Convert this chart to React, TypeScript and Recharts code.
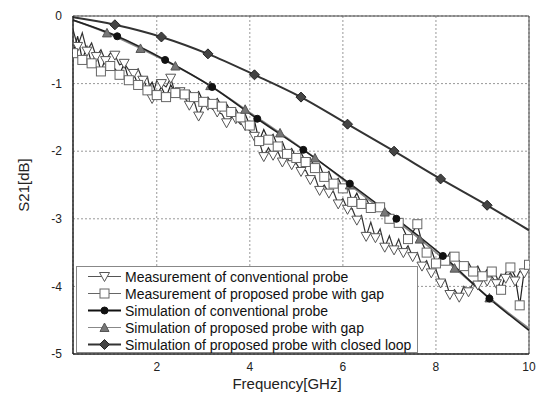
import React from 'react';
import { LineChart, Line, XAxis, YAxis, CartesianGrid, ReferenceLine, Legend } from 'recharts';

// frequency grid of the measured traces, GHz
const freq = [
  0.2, 0.3, 0.4, 0.5, 0.6, 0.7, 0.8, 0.9, 1.0, 1.1,
  1.2, 1.3, 1.4, 1.5, 1.6, 1.7, 1.8, 1.9, 2.0, 2.1,
  2.2, 2.3, 2.4, 2.5, 2.6, 2.7, 2.8, 2.9, 3.0, 3.1,
  3.2, 3.3, 3.4, 3.5, 3.6, 3.7, 3.8, 3.9, 4.0, 4.1,
  4.2, 4.3, 4.4, 4.5, 4.6, 4.7, 4.8, 4.9, 5.0, 5.1,
  5.2, 5.3, 5.4, 5.5, 5.6, 5.7, 5.8, 5.9, 6.0, 6.1,
  6.2, 6.3, 6.4, 6.5, 6.6, 6.7, 6.8, 6.9, 7.0, 7.1,
  7.2, 7.3, 7.4, 7.5, 7.6, 7.7, 7.8, 7.9, 8.0, 8.1,
  8.2, 8.3, 8.4, 8.5, 8.6, 8.7, 8.8, 8.9, 9.0, 9.1,
  9.2, 9.3, 9.4, 9.5, 9.6, 9.7, 9.8, 9.9, 10.0,
];

// measurement of conventional probe, dB
const measConv = [
  -0.2, -0.45, -0.25, -0.52, -0.4, -0.6, -0.5, -0.66, -0.55, -0.58,
  -0.72, -0.7, -0.8, -0.85, -0.78, -0.95, -0.9, -1.22, -0.95, -1.0,
  -1.05, -0.92, -1.15, -1.12, -1.2, -1.32, -1.25, -1.48, -1.3, -1.32,
  -1.38, -1.42, -1.45, -1.58, -1.5, -1.52, -1.6, -1.62, -1.7, -1.78,
  -1.85, -2.08, -1.95, -2.06, -2.0, -2.16, -2.1, -2.2, -2.18, -2.3,
  -2.28, -2.42, -2.38, -2.58, -2.5, -2.62, -2.6, -2.78, -2.7, -2.86,
  -2.85, -3.02, -2.95, -3.26, -3.05, -3.28, -3.15, -3.42, -3.25, -3.46,
  -3.3, -3.5, -3.4, -3.56, -3.5, -3.7, -3.62, -3.8, -3.75, -3.95,
  -3.9, -4.12, -4.05, -4.16, -4.0, -4.08, -3.95, -3.98, -3.88, -3.92,
  -3.85, -3.96, -3.82, -3.88, -3.8, -3.92, -3.78, -3.8, -3.68,
];

// measurement of proposed probe with gap, dB
const measGap = [
  -0.55, -0.3, -0.65, -0.45, -0.7, -0.55, -0.82, -0.62, -0.74, -0.78,
  -0.87, -0.7, -0.95, -0.85, -1.02, -0.9, -1.1, -0.98, -1.17, -1.05,
  -1.2, -1.02, -1.14, -1.08, -1.16, -1.1, -1.2, -1.12, -1.27, -1.2,
  -1.3, -1.22, -1.34, -1.3, -1.42, -1.38, -1.5, -1.45, -1.62, -1.55,
  -1.85, -1.68, -1.83, -1.75, -1.93, -1.86, -2.04, -1.96, -2.1, -2.02,
  -2.16, -2.1, -2.25, -2.2, -2.38, -2.3, -2.48, -2.4, -2.55, -2.5,
  -2.75, -2.62, -2.78, -2.7, -2.84, -2.78, -2.83, -2.9, -3.0, -2.95,
  -3.06, -3.15, -3.3, -3.2, -3.08, -3.35, -3.5, -3.45, -3.66, -3.55,
  -3.62, -3.5, -3.56, -3.62, -3.7, -3.65, -3.78, -3.7, -3.85, -3.75,
  -3.78, -3.85, -4.05, -3.8, -3.72, -3.85, -4.28, -3.75, -3.68,
];

const simConvF = [0.2, 1.15, 2.18, 3.19, 4.16, 5.15, 6.15, 7.15, 8.15, 9.15, 10];
const simConvDb = [-0.06, -0.3, -0.65, -1.05, -1.52, -1.98, -2.48, -3.0, -3.55, -4.18, -4.65];

const simGapF = [0.2, 0.93, 1.65, 2.4, 3.15, 3.9, 4.65, 5.4, 6.15, 6.9, 7.65, 8.4, 9.15, 10];
const simGapDb = [-0.06, -0.25, -0.48, -0.74, -1.03, -1.38, -1.73, -2.1, -2.5, -2.9, -3.3, -3.73, -4.17, -4.62];

const simLoopF = [0.2, 1.1, 2.1, 3.1, 4.1, 5.1, 6.1, 7.1, 8.1, 9.1, 10];
const simLoopDb = [-0.02, -0.13, -0.31, -0.56, -0.87, -1.2, -1.6, -2.0, -2.41, -2.8, -3.17];

const xTicks = [2, 4, 6, 8, 10];
const yTicks = [-5, -4, -3, -2, -1, 0];

const legendNames = [
  'Measurement of conventional probe',
  'Measurement of proposed probe with gap',
  'Simulation of conventional probe',
  'Simulation of proposed probe with gap',
  'Simulation of proposed probe with closed loop',
];
const legendMarks = ['triDown', 'square', 'circle', 'triUp', 'diamond'];
const legendLines = ['#555', '#666', '#111', '#888', '#333'];

const measRows = freq.map((f, i) => ({ f, conv: measConv[i], gap: measGap[i] }));
const pairs = (fs: number[], vs: number[]) => fs.map((f, i) => ({ f, v: vs[i] }));

const FONT = '"Liberation Sans", Arial, sans-serif';

function Mark({ kind, cx, cy }: { kind: string; cx: number; cy: number }) {
  if (kind === 'triDown')
    return <path d={`M${cx - 5},${cy - 4} L${cx + 5},${cy - 4} L${cx},${cy + 5} Z`} fill="#fff" stroke="#555" strokeWidth={1} />;
  if (kind === 'square')
    return <rect x={cx - 4.5} y={cy - 4.5} width={9} height={9} fill="#fff" stroke="#666" strokeWidth={1} />;
  if (kind === 'circle') return <circle cx={cx} cy={cy} r={3.5} fill="#111" stroke="#111" />;
  if (kind === 'triUp')
    return <path d={`M${cx - 4.5},${cy + 4} L${cx + 4.5},${cy + 4} L${cx},${cy - 4.5} Z`} fill="#777" stroke="#555" strokeWidth={1} />;
  return <path d={`M${cx},${cy - 5} L${cx + 5},${cy} L${cx},${cy + 5} L${cx - 5},${cy} Z`} fill="#444" stroke="#222" strokeWidth={1} />;
}

// markers on every other sample of the noisy traces
const sparseDot = (kind: string, parity: number) => (p: any) => {
  if (p.index % 2 !== parity || p.cx == null) return <g key={`d${p.index}`} />;
  return <g key={`d${p.index}`}><Mark kind={kind} cx={p.cx} cy={p.cy} /></g>;
};

// simulation markers, skip the end points
const innerDot = (kind: string, count: number) => (p: any) => {
  if (p.index === 0 || p.index === count - 1 || p.cx == null) return <g key={`s${p.index}`} />;
  return <g key={`s${p.index}`}><Mark kind={kind} cx={p.cx} cy={p.cy} /></g>;
};

function LegendBox() {
  return (
    <div style={{ fontFamily: FONT, fontSize: 14, color: '#111', paddingTop: 1 }}>
      {legendNames.map((name, i) => (
        <div key={name} style={{ display: 'flex', alignItems: 'center', height: 17 }}>
          <svg width={48} height={17} style={{ flex: 'none' }}>
            <line x1={11} y1={8.5} x2={44} y2={8.5} stroke={legendLines[i]} strokeWidth={i === 2 || i === 4 ? 2 : 1.2} />
            <Mark kind={legendMarks[i]} cx={27.5} cy={8.5} />
          </svg>
          <span style={{ whiteSpace: 'nowrap' }}>{name}</span>
        </div>
      ))}
    </div>
  );
}

export default function App() {
  return (
    <div style={{ position: 'absolute', left: 0, top: 0, background: '#fff' }}>
      <LineChart width={545} height={401} margin={{ top: 16, right: 16, left: 0, bottom: 0 }}>
        <CartesianGrid stroke="#999" strokeDasharray="2 2" />
        <XAxis
          type="number"
          dataKey="f"
          domain={[0.2, 10]}
          ticks={xTicks}
          allowDataOverflow
          height={47}
          tickLine={false}
          tickMargin={2}
          axisLine={{ stroke: '#222', strokeWidth: 1.5 }}
          tick={{ fill: '#222', fontSize: 12, fontFamily: FONT }}
          label={{ value: 'Frequency[GHz]', position: 'insideBottom', offset: 12, dx: -14, style: { fill: '#222', fontSize: 15, fontFamily: FONT } }}
        />
        <YAxis
          type="number"
          domain={[-5, 0]}
          ticks={yTicks}
          allowDataOverflow
          width={73}
          tickLine={false}
          tickMargin={5}
          axisLine={{ stroke: '#222', strokeWidth: 1.5 }}
          tick={{ fill: '#222', fontSize: 12, fontFamily: FONT }}
          label={{ value: 'S21[dB]', angle: -90, position: 'insideLeft', offset: 24, style: { textAnchor: 'middle', fill: '#222', fontSize: 15, fontFamily: FONT } }}
        />
        <ReferenceLine y={0} stroke="#444" />
        <ReferenceLine x={10} stroke="#444" />
        <Legend
          layout="vertical"
          align="center"
          verticalAlign="middle"
          content={() => <LegendBox />}
          wrapperStyle={{ left: 76, top: 266, width: 342, height: 87, border: '1px solid #888', background: '#fff', boxSizing: 'border-box' }}
        />
        <Line data={measRows} dataKey="conv" name="conv" stroke="#333" strokeWidth={1.2} dot={sparseDot('triDown', 1)} isAnimationActive={false} legendType="none" />
        <Line data={measRows} dataKey="gap" name="gap" stroke="#222" strokeWidth={1.2} dot={sparseDot('square', 0)} isAnimationActive={false} legendType="none" />
        <Line data={pairs(simGapF, simGapDb)} dataKey="v" name="simGap" type="monotone" stroke="#888" strokeWidth={1.6} dot={innerDot('triUp', simGapF.length)} isAnimationActive={false} legendType="none" />
        <Line data={pairs(simConvF, simConvDb)} dataKey="v" name="simConv" type="monotone" stroke="#222" strokeWidth={1.6} dot={innerDot('circle', simConvF.length)} isAnimationActive={false} legendType="none" />
        <Line data={pairs(simLoopF, simLoopDb)} dataKey="v" name="simLoop" type="monotone" stroke="#333" strokeWidth={2} dot={innerDot('diamond', simLoopF.length)} isAnimationActive={false} legendType="none" />
      </LineChart>
    </div>
  );
}
